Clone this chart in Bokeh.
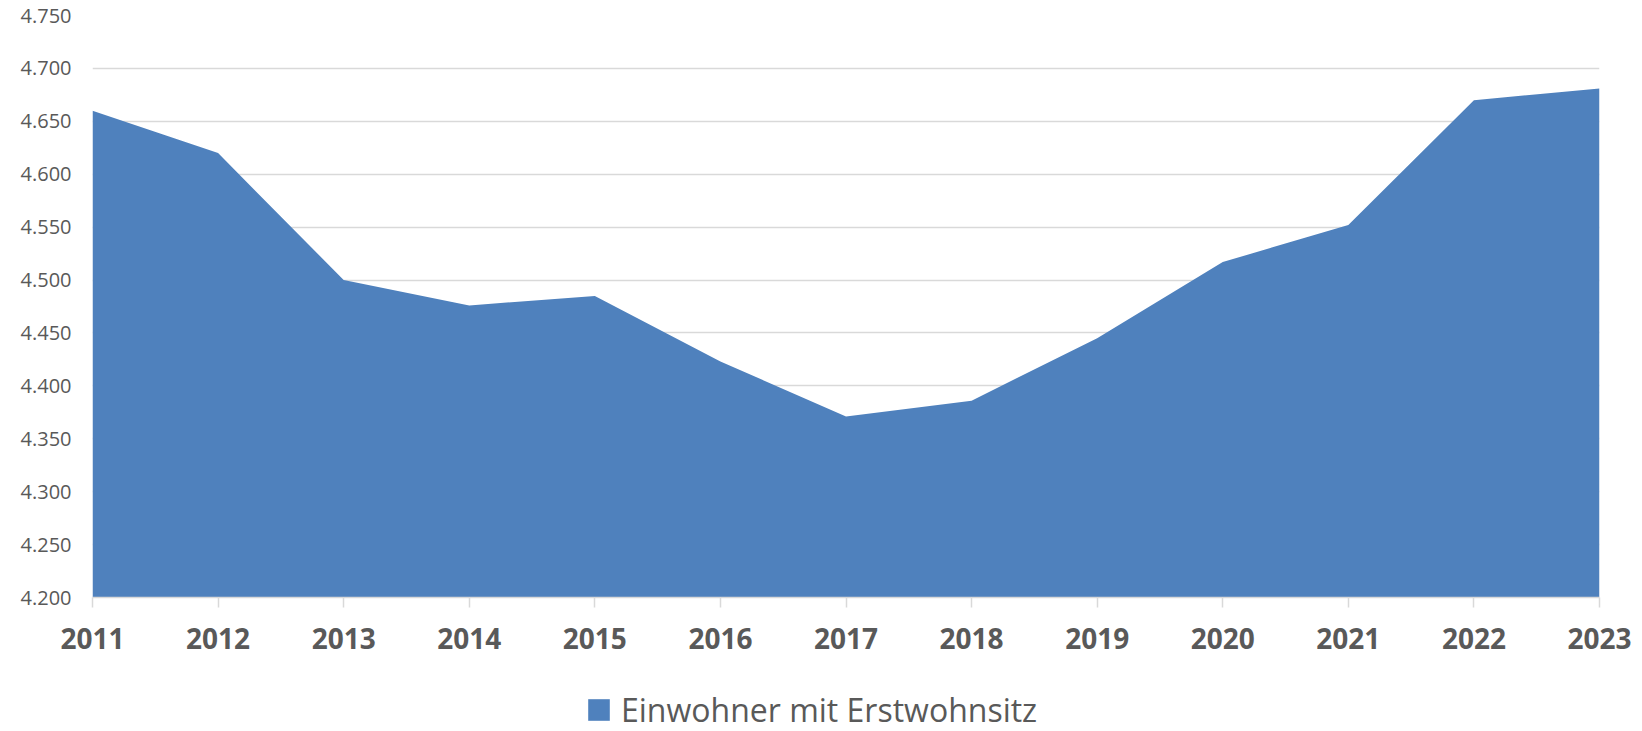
from bokeh.plotting import figure
from bokeh.layouts import column
from bokeh.models import ColumnDataSource, FixedTicker, Legend, LegendItem, Range1d
from bokeh.embed import file_html
from bokeh.resources import INLINE

years = [2011, 2012, 2013, 2014, 2015, 2016, 2017, 2018, 2019, 2020, 2021, 2022, 2023]
einwohner = [4660, 4620, 4500, 4476, 4485, 4423, 4371, 4386, 4445, 4517, 4552, 4670, 4681]
y_ticks = [4200, 4250, 4300, 4350, 4400, 4450, 4500, 4550, 4600, 4650, 4700, 4750]
y_tick_labels = ["4.200", "4.250", "4.300", "4.350", "4.400", "4.450", "4.500",
                 "4.550", "4.600", "4.650", "4.700", "4.750"]
series_name = "Einwohner mit Erstwohnsitz"

FONT = "Open Sans"
TXT = "#595959"
BLUE = "#4f81bd"
GRID = "#d9d9d9"

src = ColumnDataSource(dict(x=years, y=einwohner, base=[y_ticks[0]] * len(years)))

p = figure(width=1634, height=655, output_backend="svg", toolbar_location=None,
           x_range=Range1d(years[0], years[-1]), y_range=Range1d(y_ticks[0], y_ticks[-1]),
           min_border_left=92, min_border_right=35, min_border_top=15, min_border_bottom=58)
p.outline_line_color = None
p.background_fill_color = "white"

r = p.varea(x="x", y1="base", y2="y", source=src, fill_color=BLUE, fill_alpha=1.0)

# x axis
p.xaxis.ticker = FixedTicker(ticks=years)
p.xaxis.axis_line_color = GRID
p.xaxis.axis_line_width = 1.5
p.xaxis.major_tick_line_color = GRID
p.xaxis.major_tick_line_width = 1.5
p.xaxis.major_tick_out = 10
p.xaxis.major_tick_in = 0
p.xaxis.minor_tick_line_color = None
p.xaxis.major_label_text_font = FONT
p.xaxis.major_label_text_font_style = "bold"
p.xaxis.major_label_text_font_size = "28px"
p.xaxis.major_label_text_color = TXT
p.xaxis.major_label_standoff = 20

# y axis
p.yaxis.ticker = FixedTicker(ticks=y_ticks)
p.yaxis.major_label_overrides = {t: s for t, s in zip(y_ticks, y_tick_labels)}
p.yaxis.axis_line_color = None
p.yaxis.major_tick_line_color = None
p.yaxis.minor_tick_line_color = None
p.yaxis.major_label_text_font = FONT
p.yaxis.major_label_text_font_size = "20px"
p.yaxis.major_label_text_color = TXT
p.yaxis.major_label_standoff = 15

p.xgrid.grid_line_color = None
p.ygrid.ticker = FixedTicker(ticks=y_ticks)
p.ygrid.grid_line_color = GRID
p.ygrid.grid_line_width = 1.5
p.ygrid.level = "underlay"

# legend strip below the chart
lf = figure(width=1634, height=76, output_backend="svg", toolbar_location=None,
            x_range=Range1d(0, 1), y_range=Range1d(0, 1),
            x_axis_location=None, y_axis_location=None,
            min_border_left=0, min_border_right=0, min_border_top=0, min_border_bottom=0)
lf.outline_line_color = None
lf.grid.visible = False
lr = lf.varea(x="x", y1="base", y2="y", source=src, fill_color=BLUE, fill_alpha=1.0)

legend = Legend(items=[LegendItem(label=series_name, renderers=[lr])],
                location=(493, 0), orientation="horizontal",
                border_line_color=None, background_fill_alpha=0,
                padding=0, margin=0, glyph_width=27, glyph_height=27,
                label_standoff=9, label_text_font=FONT, label_text_font_size="32px",
                label_text_color=TXT, label_height=27)
lf.add_layout(legend, "center")

open("out.html", "w").write(file_html(column(p, lf, spacing=0), INLINE))
